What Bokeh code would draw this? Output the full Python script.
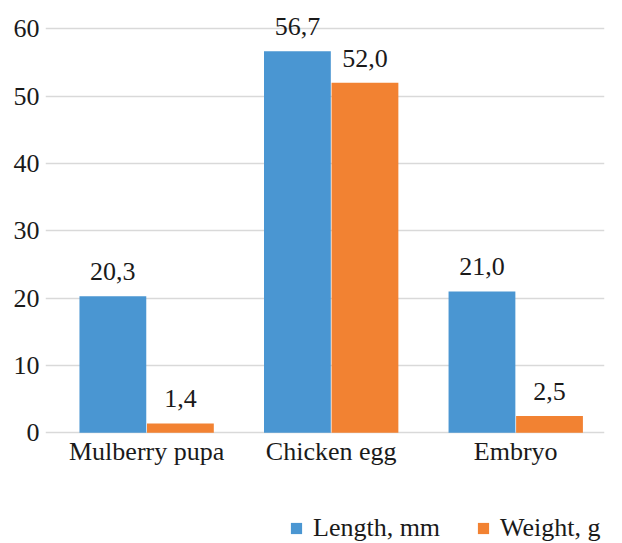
from bokeh.plotting import figure
from bokeh.models import ColumnDataSource, Range1d, FixedTicker, LabelSet, Legend, LegendItem
from bokeh.embed import file_html
from bokeh.resources import INLINE

categories = ["Mulberry pupa", "Chicken egg", "Embryo"]
length_mm = [20.3, 56.7, 21.0]
weight_g = [1.4, 52.0, 2.5]
series_names = ["Length, mm", "Weight, g"]
y_ticks = [0, 10, 20, 30, 40, 50, 60]

BLUE = "#4A96D2"
ORANGE = "#F28232"
FONT = "Liberation Serif"
FS = "26px"
TXT = "#1a1a1a"

xs = list(range(len(categories)))
off = 0.183
bw = 0.362

src_len = ColumnDataSource(dict(
    x=[x - off for x in xs], top=length_mm,
    lab=[f"{v:.1f}".replace(".", ",") for v in length_mm]))
src_wt = ColumnDataSource(dict(
    x=[x + off for x in xs], top=weight_g,
    lab=[f"{v:.1f}".replace(".", ",") for v in weight_g]))
src_cat = ColumnDataSource(dict(x=xs, y=[0] * len(xs), name=categories))

p = figure(width=622, height=543, output_backend="svg", toolbar_location=None,
           x_range=Range1d(-0.548, 2.481), y_range=Range1d(-16.44, 62),
           min_border_left=45, min_border_right=18, min_border_top=15,
           min_border_bottom=0)
p.outline_line_color = None
p.background_fill_color = "white"
p.border_fill_color = "white"

r1 = p.vbar(x="x", top="top", width=bw, source=src_len, fill_color=BLUE, line_color=None)
r2 = p.vbar(x="x", top="top", width=bw, source=src_wt, fill_color=ORANGE, line_color=None)

for s in (src_len, src_wt):
    ls = LabelSet(x="x", y="top", text="lab", source=s, text_align="center",
                  text_baseline="bottom", y_offset=16, text_font=FONT,
                  text_font_size=FS, text_color=TXT)
    p.add_layout(ls)

cat_labels = LabelSet(x="x", y="y", text="name", source=src_cat, text_align="center",
                      text_baseline="top", y_offset=-4, text_font=FONT,
                      text_font_size=FS, text_color=TXT)
p.add_layout(cat_labels)

p.xaxis.visible = False
p.yaxis.ticker = FixedTicker(ticks=y_ticks)
ax = p.yaxis[0]
ax.axis_line_color = None
ax.major_tick_line_color = None
ax.minor_tick_line_color = None
ax.major_tick_out = 0
ax.major_tick_in = 0
ax.minor_tick_out = 0
ax.minor_tick_in = 0
ax.major_label_text_font = FONT
ax.major_label_text_font_size = FS
ax.major_label_text_color = TXT
ax.major_label_standoff = 6

p.xgrid.grid_line_color = None
p.ygrid.grid_line_color = "#D9D9D9"
p.ygrid.grid_line_width = 1.5
p.ygrid.ticker = FixedTicker(ticks=y_ticks)

legend = Legend(items=[LegendItem(label=series_names[0], renderers=[r1]),
                       LegendItem(label=series_names[1], renderers=[r2])],
                orientation="horizontal", location=(244, 0),
                label_text_font=FONT, label_text_font_size=FS,
                label_text_color=TXT, glyph_width=14, glyph_height=14,
                label_standoff=10, spacing=36, padding=0, margin=0,
                border_line_color=None, background_fill_alpha=0)
p.add_layout(legend, "center")

open("out.html", "w").write(file_html(p, INLINE))
